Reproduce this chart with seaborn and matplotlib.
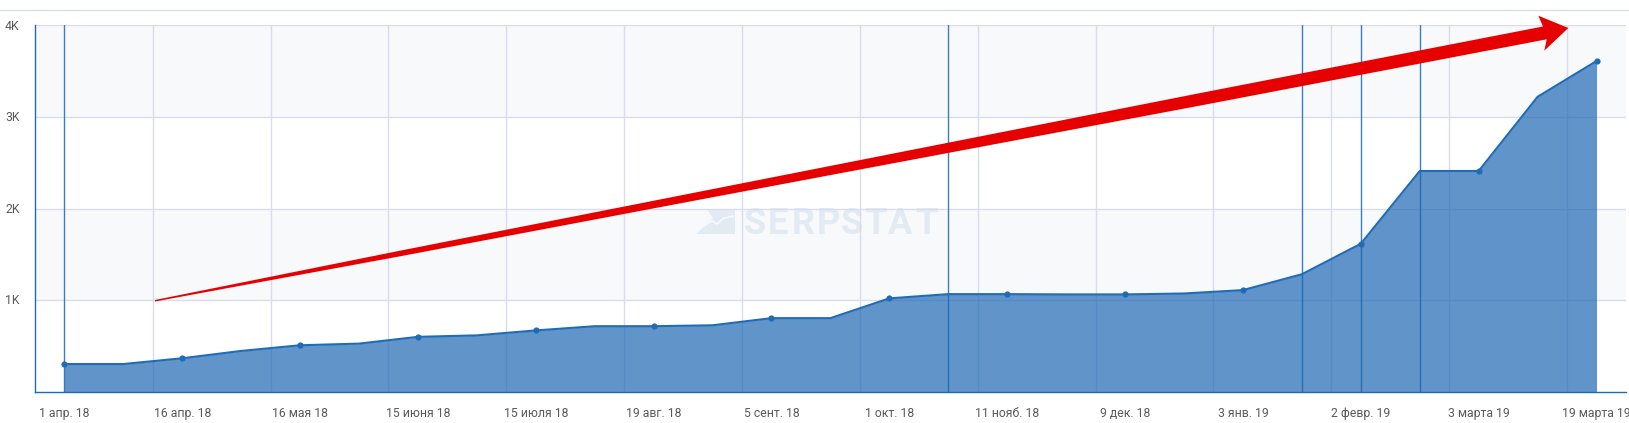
import pandas as pd
import matplotlib.pyplot as plt
from matplotlib.lines import Line2D
from matplotlib.transforms import IdentityTransform, ScaledTranslation
import seaborn as sns

sns.set_theme(style='white')
plt.rcParams['font.family'] = ['Roboto', 'DejaVu Sans']

# Values, one point per step
values = [305, 305, 368, 448, 510, 528, 602, 618, 672, 718, 718, 728, 806, 806,
          1022, 1068, 1068, 1065, 1065, 1075, 1112, 1285, 1618, 2412, 2412, 3222, 3612]
x_labels = ['1 апр. 18', '16 апр. 18', '16 мая 18', '15 июня 18', '15 июля 18',
            '19 авг. 18', '5 сент. 18', '1 окт. 18', '11 нояб. 18', '9 дек. 18',
            '3 янв. 19', '2 февр. 19', '3 марта 19', '19 марта 19']
y_ticks = [1000, 2000, 3000, 4000]
y_labels = ['1K', '2K', '3K', '4K']
event_steps = [0, 15, 21, 22, 23]

# Red arrow outline, in image pixels
arrow_x = [155, 400, 700, 1200, 1543, 1538.3, 1568.3, 1544.3, 1546.7, 1200, 700, 400, 155]
arrow_y = [300, 250.7, 191.6, 93.1, 26.5, 15.7, 28, 50.7, 39.3, 105.6, 199.6, 256.3, 301.5]
# Watermark logo and letters, in image pixels
logo_x = [696, 713, 707, 735, 735]
logo_y = [234, 218, 209, 209, 234]
zigzag_x = [704, 712, 717, 724, 734]
zigzag_y = [226, 221, 224, 218, 216]
mark_letters = list('SERPSTAT')
mark_x = [744, 768, 792, 817, 841, 864, 888, 915]

BLUE = '#1f6bb8'
GRID = '#d8dcec'
BAND = '#f8f9fb'
WATERMARK = '#e2eaf3'
H = 423


def pixel_polygon(xs, ys, color, zorder):
    # image pixels have y going down, the display goes up
    points = [(x, H - y) for x, y in zip(xs, ys)]
    return plt.Polygon(points, closed=True, transform=IdentityTransform(), color=color,
                       lw=0, zorder=zorder, clip_on=False)


df = pd.DataFrame({'step': range(len(values)), 'value': values})

fig, ax = plt.subplots(figsize=(16.29, 4.23), dpi=100)
fig.subplots_adjust(left=34.8 / 1629, right=1626 / 1629, top=1 - 25.5 / H, bottom=1 - 392 / H)

ax.set_xlim(-0.5, 26.5)
ax.set_ylim(0, 4000)

# bands and grid
ax.axhspan(3000, 4000, color=BAND, lw=0, zorder=0)
ax.axhspan(1000, 2000, color=BAND, lw=0, zorder=0)
for y in y_ticks:
    ax.axhline(y, color=GRID, lw=1, zorder=1)
for step in df['step'][1::2]:
    ax.axvline(step + 0.5, color=GRID, lw=1, zorder=1)

# watermark
for letter, x in zip(mark_letters, mark_x):
    ax.text(x, H - 234, letter, transform=IdentityTransform(), fontsize=26, fontweight='bold',
            color=WATERMARK, ha='left', va='baseline', zorder=0.5)
ax.add_patch(pixel_polygon(logo_x, logo_y, WATERMARK, 0.5))
ax.add_line(Line2D(zigzag_x, [H - v for v in zigzag_y], transform=IdentityTransform(),
                   color=BAND, lw=1.2, zorder=0.6))

for step in event_steps:
    ax.axvline(step, color='#3a7dc4', lw=1.0, zorder=2)

ax.fill_between(df['step'], df['value'], color='#1a66b3', alpha=0.69, lw=0, zorder=3)
sns.lineplot(data=df, x='step', y='value', color=BLUE, lw=1.5, ax=ax, zorder=4)
sns.scatterplot(data=df[df['step'] % 2 == 0], x='step', y='value', color=BLUE, s=20,
                linewidth=0, ax=ax, zorder=5, clip_on=False)

ax.set_xticks(list(df['step'][::2]), x_labels)
ax.set_yticks(y_ticks, y_labels)
ax.set_xlabel('')
ax.set_ylabel('')
ax.tick_params(axis='x', length=0, pad=11, labelsize=8.8, labelcolor='#5a5a5a')
ax.tick_params(axis='y', length=0, pad=11, labelsize=8.8, labelcolor='#5a5a5a')

# y labels sit a touch above their grid lines
for label in ax.get_yticklabels():
    label.set_transform(label.get_transform() + ScaledTranslation(0, 1 / 100, fig.dpi_scale_trans))

sns.despine(ax=ax, top=True, right=True)
ax.spines['left'].set_color(BLUE)
ax.spines['bottom'].set_color(BLUE)
ax.spines['left'].set_linewidth(1.0)
ax.spines['bottom'].set_linewidth(1.0)

# red arrow on top of everything
ax.add_patch(pixel_polygon(arrow_x, arrow_y, '#e60000', 10))

# thin line above the chart
fig.add_artist(Line2D([0, 1], [1 - 10.5 / H, 1 - 10.5 / H], color=GRID, lw=1))

fig.savefig('out.png', dpi=100)
